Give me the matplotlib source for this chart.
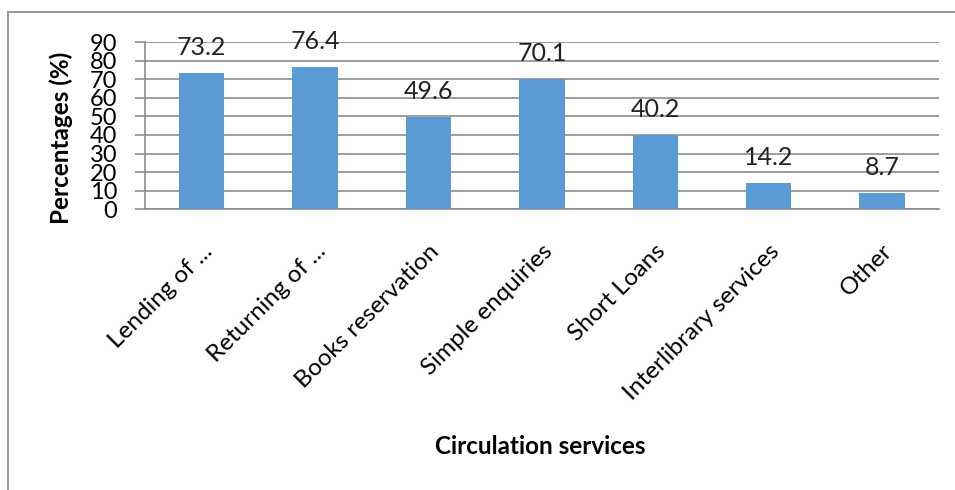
import matplotlib.pyplot as plt
import matplotlib.transforms as mtransforms
from matplotlib.patches import Rectangle
import numpy as np

# circulation services used by respondents (%)
services = ["Lending of ...", "Returning of ...", "Books reservation",
            "Simple enquiries", "Short Loans", "Interlibrary services", "Other"]
percentages = [73.2, 76.4, 49.6, 70.1, 40.2, 14.2, 8.7]
y_ticks = [0, 10, 20, 30, 40, 50, 60, 70, 80, 90]

plt.rcParams["font.family"] = ["Lato", "DejaVu Sans"]

fig = plt.figure(figsize=(9.55, 4.9), dpi=100)
ax = fig.add_axes([0.1518, 0.573, 0.8312, 0.341])

x = np.arange(len(services))
ax.bar(x, percentages, width=0.4, color="#5B9BD5", zorder=3)

# value labels over each bar
for xi, v in zip(x, percentages):
    ax.annotate(f"{v}", (xi, v), xytext=(0, 13), textcoords="offset points",
                ha="center", va="baseline", fontsize=18, color="#222222")

ax.set_xlim(-0.5, len(services) - 0.5)
ax.set_ylim(0, 90)
ax.set_yticks(y_ticks)
ax.set_yticklabels([str(t) for t in y_ticks], fontsize=17)
ax.yaxis.grid(True, color="#8C8C8C", linewidth=1.2, zorder=0)

ax.set_xticks(x)
ax.set_xticklabels(services, rotation=45, ha="right", va="center",
                   rotation_mode="anchor", fontsize=17.5)
ax.tick_params(axis="x", length=0, pad=28)
ax.tick_params(axis="y", length=7, width=1.2, color="#8C8C8C", pad=13)

shift = mtransforms.ScaledTranslation(5 / 72, 0, fig.dpi_scale_trans)
for lbl in ax.get_xticklabels():
    lbl.set_transform(lbl.get_transform() + shift)

for side in ["top", "right"]:
    ax.spines[side].set_visible(False)
for side in ["left", "bottom"]:
    ax.spines[side].set_color("#8C8C8C")
    ax.spines[side].set_linewidth(1.2)

fig.text(0.064, 0.718, "Percentages (%)", rotation=90, ha="center", va="center",
         fontsize=17.5, fontweight="bold")
fig.text(0.566, 0.088, "Circulation services", ha="center", va="center",
         fontsize=17.5, fontweight="bold")

# outer chart border
fig.patches.append(Rectangle((8 / 955, -0.1), 1.2, 1 - 12 / 490 + 0.1,
                             transform=fig.transFigure, fill=False,
                             edgecolor="#9A9A9A", linewidth=1.5))

fig.savefig("out.png", dpi=100)
